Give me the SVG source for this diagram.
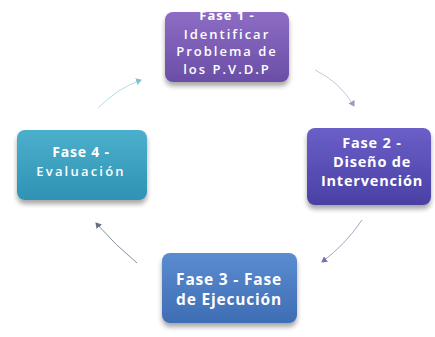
<svg xmlns="http://www.w3.org/2000/svg" width="435" height="337" viewBox="0 0 435 337">
<defs>
<linearGradient id="g1" x1="0" y1="0" x2="0" y2="1"><stop offset="0" stop-color="#8d6cc4"/><stop offset="1" stop-color="#6a4ea6"/></linearGradient>
<linearGradient id="g2" x1="0" y1="0" x2="0" y2="1"><stop offset="0" stop-color="#6a5fc8"/><stop offset="1" stop-color="#4a40a4"/></linearGradient>
<linearGradient id="g3" x1="0" y1="0" x2="0" y2="1"><stop offset="0" stop-color="#5a8cd0"/><stop offset="1" stop-color="#3f6db4"/></linearGradient>
<linearGradient id="g4" x1="0" y1="0" x2="0" y2="1"><stop offset="0" stop-color="#4cb0cc"/><stop offset="1" stop-color="#2f92b4"/></linearGradient>
<filter id="sh" x="-20%" y="-20%" width="140%" height="150%"><feGaussianBlur in="SourceAlpha" stdDeviation="2.5"/><feOffset dx="0" dy="4"/><feComponentTransfer><feFuncA type="linear" slope="0.35"/></feComponentTransfer><feMerge><feMergeNode/><feMergeNode in="SourceGraphic"/></feMerge></filter>
<marker id="ac" markerWidth="7" markerHeight="7" refX="5" refY="3.5" orient="auto" markerUnits="userSpaceOnUse"><path d="M0,0 L6,3.5 L0,7 Z" fill="#7cc2d0"/></marker>
<marker id="al" markerWidth="7" markerHeight="7" refX="5" refY="3.5" orient="auto" markerUnits="userSpaceOnUse"><path d="M0,0 L6,3.5 L0,7 Z" fill="#9c98c0"/></marker>
<marker id="ap" markerWidth="7" markerHeight="7" refX="5" refY="3.5" orient="auto" markerUnits="userSpaceOnUse"><path d="M0,0 L6,3.5 L0,7 Z" fill="#7670b0"/></marker>
<marker id="ad" markerWidth="7" markerHeight="7" refX="5" refY="3.5" orient="auto" markerUnits="userSpaceOnUse"><path d="M0,0 L6,3.5 L0,7 Z" fill="#687084"/></marker>
</defs>
<style>
.box{stroke:none;filter:url(#sh)}
.t{font-family:"Open Sans","DejaVu Sans",sans-serif;fill:#ffffff;text-anchor:middle}
.b{font-weight:bold;font-size:14.5px;letter-spacing:0.8px}
.s{font-size:13px;letter-spacing:2px;font-weight:600}
.c{fill:none;stroke-width:0.9}
</style>
<rect width="435" height="337" fill="#ffffff"/>
<g id="connectors">
<path class="c" d="M98,108 Q118,88 141,80" stroke="#a8d8e2" marker-end="url(#ac)"/>
<path class="c" d="M315,70 Q340,82 354,106" stroke="#c0bed8" marker-end="url(#al)"/>
<path class="c" d="M362,220 Q345,245 322,262" stroke="#9c97c8" marker-end="url(#ap)"/>
<path class="c" d="M137,263 Q115,245 96,223" stroke="#7c8292" marker-end="url(#ad)"/>
</g>
<g id="node1">
<rect class="box" x="165" y="12" width="124" height="70" rx="8" fill="url(#g1)"/>
<text class="t s" x="227" y="20" style="font-weight:bold;letter-spacing:1px">Fase 1 -</text>
<text class="t s" x="227" y="39">Identificar</text>
<text class="t s" x="227" y="56">Problema de</text>
<text class="t s" x="227" y="74">los P.V.D.P</text>
</g>
<g id="node2">
<rect class="box" x="307" y="128" width="124" height="77" rx="8" fill="url(#g2)"/>
<text class="t b" x="372" y="148">Fase 2 -</text>
<text class="t b" x="372" y="167">Diseño de</text>
<text class="t b" x="372" y="186">Intervención</text>
</g>
<g id="node3">
<rect class="box" x="162" y="253" width="135" height="70" rx="8" fill="url(#g3)"/>
<text class="t b" x="229" y="285" style="font-size:15.5px">Fase 3 - Fase</text>
<text class="t b" x="229" y="305" style="font-size:15.5px">de Ejecución</text>
</g>
<g id="node4">
<rect class="box" x="17" y="130" width="130" height="70" rx="8" fill="url(#g4)"/>
<text class="t b" x="81" y="157" style="font-size:14px">Fase 4 -</text>
<text class="t s" x="81" y="176" style="letter-spacing:2.2px">Evaluación</text>
</g>
</svg>
